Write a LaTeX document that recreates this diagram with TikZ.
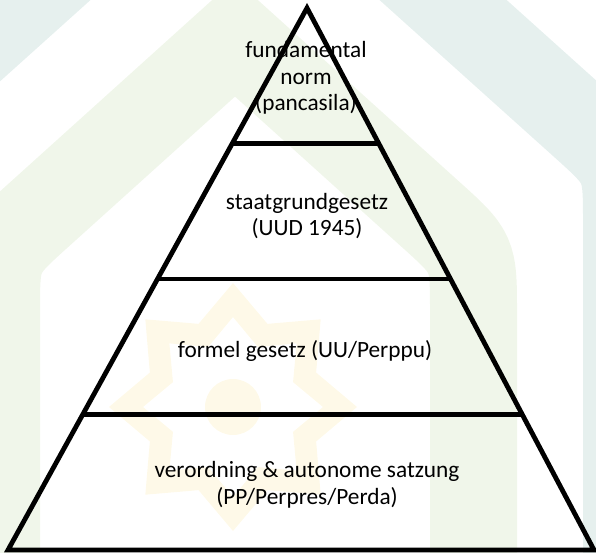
\documentclass[tikz,border=0pt]{standalone}
\usepackage{fontspec}
\setmainfont{Carlito}
\usetikzlibrary{calc}
\definecolor{archgrey}{RGB}{230, 240, 238}
\definecolor{archgreen}{RGB}{240, 246, 234}
\definecolor{staryellow}{RGB}{254, 249, 232}
\tikzset{
  band/.style={line join=miter, miter limit=10},
  layerline/.style={line width=4.8pt, line join=miter, black},
  layertext/.style={align=center, text=black,
    font=\fontsize{23.3}{26.5}\selectfont},
}

\begin{document}
\begin{tikzpicture}[x=1pt, y=-1pt]

    \useasboundingbox (0,0) rectangle (596,553);

    % watermark behind the pyramid
    \begin{scope}
        \clip (0,0) rectangle (596,553);

        \draw[band, archgrey, line width=85pt] (-155.5,700) -- (-155.5,224)
            .. controls (-155.5,164) .. (-110.9,123.9) -- (235,-187)
            -- (580.9,123.9) .. controls (625.5,164) .. (625.5,224) -- (625.5,700);

        \draw[band, archgreen, line width=87pt] (-3.5,700) -- (-3.5,313)
            .. controls (-3.5,253) .. (41.1,212.9) -- (235,38)
            -- (428.9,212.9) .. controls (473.5,253) .. (473.5,313) -- (473.5,700);

        \begin{scope}[shift={(233,407)}]
            \fill[staryellow, even odd rule]
                plot[samples at={0,...,15}, variable=\k] (22.5*\k:{124-34*mod(\k,2)}) -- cycle
                plot[samples at={0,...,15}, variable=\k] (22.5*\k:{90-25*mod(\k,2)}) -- cycle
                (0,0) circle (28);
        \end{scope}
    \end{scope}

    \coordinate (apex) at (307,8);
    \coordinate (bl) at (8,550);
    \coordinate (br) at (594,550);

    \node[layertext] (fundnorm) at (306,78) {fundamental\\norm\\(pancasila)};
    \node[layertext] (staat) at (307,216) {staatgrundgesetz\\(UUD 1945)};
    \node[layertext] (formel) at (305,351) {formel gesetz (UU/Perppu)};
    \node[layertext] (verord) at (307,485) {verordning \& autonome satzung\\(PP/Perpres/Perda)};

    \draw[layerline] (apex) -- (bl) -- (br) -- cycle;
    \foreach \t in {0.25,0.5,0.75}
        \draw[layerline] ($(apex)!\t!(bl)$) -- ($(apex)!\t!(br)$);

\end{tikzpicture}
\end{document}
